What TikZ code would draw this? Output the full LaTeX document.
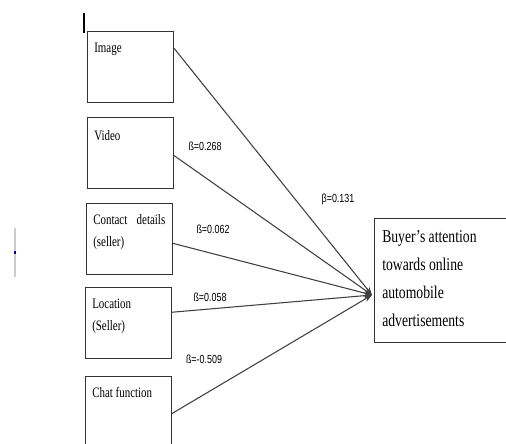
\documentclass[tikz,border=0pt]{standalone}
\usepackage{fontspec}
\setmainfont{Liberation Serif}[FakeStretch=0.76]
\newfontfamily\betafont{Liberation Sans}[FakeStretch=0.76]
\usetikzlibrary{arrows.meta,calc}
\begin{document}
\begin{tikzpicture}[x=0.75pt,y=-0.75pt,
 box/.style={draw=black!80, line width=0.8pt, minimum width=64.5pt, minimum height=53.25pt, inner sep=0pt, anchor=north west},
 lbl/.style={anchor=north west, inner sep=0pt, font=\fontsize{10.8}{16.5}\selectfont, align=left},
 coef/.style={font=\betafont\fontsize{8.8}{10}\selectfont, inner sep=0pt},
 link/.style={draw=black!75, line width=0.8pt, -{Stealth[length=6pt,width=4.5pt]}}]
\clip (0,0) rectangle (506,443);
% boxes
\node[box] (img) at (87,31) {};
\node[box] (vid) at (87,117) {};
\node[box] (con) at (86,203) {};
\node[box] (loc) at (85,287) {};
\node[box] (cht) at (85,376) {};
\node[box, minimum width=109.5pt, minimum height=93pt] (buy) at (374,218) {};
% box texts
\node[lbl] (timg) at (94,43) {Image};
\node[lbl] (tvid) at (94,130) {Video};
\node[lbl, text width=54pt] (tcon) at (93,214) {Contact\hfill details\\(seller)};
\node[lbl] (tloc) at (92,299) {Location\\(Seller)};
\node[lbl] (tcht) at (92,387) {Chat function};
\node[anchor=north west, inner sep=0pt, align=left, font=\fontsize{13.5}{21}\selectfont] (tbuy) at (382,230)
  {Buyer's attention\\towards online\\automobile\\advertisements};
% connectors
\coordinate (t) at (372,295);
\draw[link] ($(img.north east)!0.24!(img.south east)$) -- (t);
\draw[link] ($(vid.north east)!0.535!(vid.south east)$) -- (t);
\draw[link] ($(con.north east)!0.56!(con.south east)$) -- (t);
\draw[link] ($(loc.north east)!0.35!(loc.south east)$) -- (t);
\draw[link] ($(cht.north east)!0.52!(cht.south east)$) -- (t);
% coefficients
\node[coef] (c1) at (338,199) {β=0.131};
\node[coef] (c2) at (205,146) {ß=0.268};
\node[coef] (c3) at (213,229) {ß=0.062};
\node[coef] (c4) at (210,297) {ß=0.058};
\node[coef] (c5) at (204,359) {ß=-0.509};
% stray marks
\draw[line width=1.1pt] (84,13) -- (84,33);
\draw[black!20, line width=1.5pt] (15,228) -- (15,277);
\fill[blue!60!black] (14.4,251) rectangle (15.6,253.5);
\end{tikzpicture}
\end{document}
